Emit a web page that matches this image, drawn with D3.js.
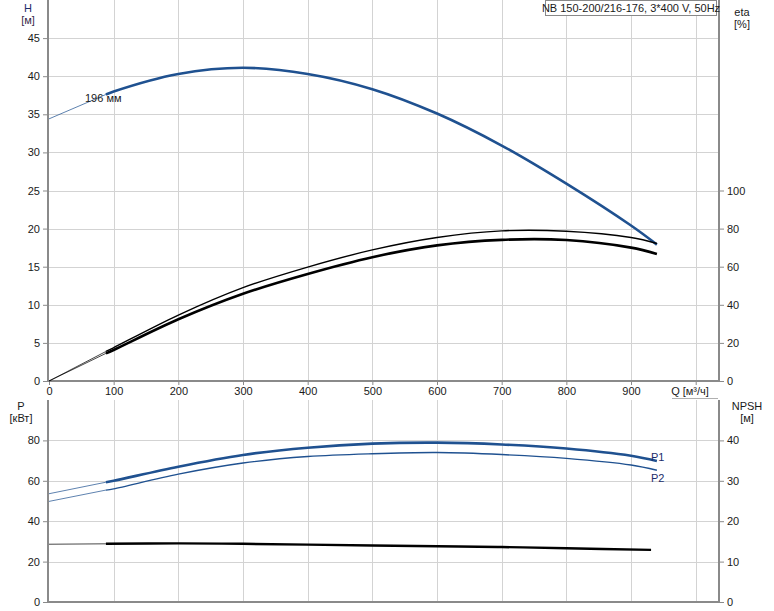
<!DOCTYPE html>
<html><head><meta charset="utf-8">
<script src="https://cdn.jsdelivr.net/npm/d3@7/dist/d3.min.js"></script>
<style>body{margin:0;background:#fff}svg{display:block;font-family:"Liberation Sans",Arial,sans-serif}</style>
</head><body><svg id="c" width="774" height="611"></svg>
<script>
// ---- data ----
const title = "NB 150-200/216-176, 3*400 V, 50Hz";
const qTicks = [0,100,200,300,400,500,600,700,800,900];
const hTicks = [0,5,10,15,20,25,30,35,40,45];
const etaTicks = [0,20,40,60,80,100];
const pTicks = [0,20,40,60,80];
const npshTicks = [0,10,20,30,40];

const qH   = [0, 88, 100, 200, 300, 400, 500, 600, 700, 800, 900, 940];
const hVal = [34.4, 37.6, 38.0, 40.3, 41.1, 40.3, 38.3, 35.1, 30.9, 25.9, 20.4, 17.9];

const qEta  = [0, 88, 100, 200, 300, 400, 500, 600, 700, 800, 900, 940];
const eta1  = [0, 15.5, 17.5, 34.6, 49.0, 59.8, 68.8, 75.3, 78.8, 78.6, 75.3, 72.2];
const eta2  = [0, 14.5, 16.3, 32.4, 45.8, 56.2, 65.0, 71.2, 74.1, 74.0, 70.0, 66.7];

const qP  = [0, 88, 100, 200, 300, 400, 500, 600, 700, 800, 900, 940];
const p1  = [53.6, 59.3, 60.0, 67.0, 72.8, 76.4, 78.4, 78.9, 78.0, 76.0, 72.4, 69.8];
const p2  = [49.8, 55.4, 56.0, 63.3, 68.8, 72.0, 73.4, 74.0, 73.0, 71.1, 67.8, 65.2];

const qN   = [0, 88, 200, 300, 400, 500, 600, 700, 800, 931];
const npsh = [14.3, 14.4, 14.5, 14.4, 14.2, 14.0, 13.8, 13.6, 13.3, 12.9];

const startQ = 88;

// ---- scales ----
const svg = d3.select("#c");
const x = d3.scaleLinear().domain([0, 1034.5]).range([49, 718]);
const yH = d3.scaleLinear().domain([0, 50]).range([381, 0]);
const yEta = d3.scaleLinear().domain([0, 200]).range([381, 0]);
const yP = d3.scaleLinear().domain([0, 100]).range([602, 400]);
const yN = d3.scaleLinear().domain([0, 50]).range([602, 400]);

const grid = "#d3d3d3", frame = "#8a8a8a", blue = "#1f5190", txt = "#1a1a1a";

// grids
const g = svg.append("g");
const vq = qTicks.slice(1).concat([1000]);
g.selectAll(".vt").data(vq).join("line")
  .attr("x1", d => Math.round(x(d))+0.5).attr("x2", d => Math.round(x(d))+0.5).attr("y1", 0).attr("y2", 381)
  .attr("stroke", grid);
g.selectAll(".vb").data(vq).join("line")
  .attr("x1", d => Math.round(x(d))+0.5).attr("x2", d => Math.round(x(d))+0.5).attr("y1", 400).attr("y2", 602)
  .attr("stroke", grid);
g.selectAll(".ht").data(hTicks.slice(1)).join("line")
  .attr("x1", 49).attr("x2", 718).attr("y1", d => Math.round(yH(d))+0.5).attr("y2", d => Math.round(yH(d))+0.5)
  .attr("stroke", grid);
g.selectAll(".hb").data(pTicks.slice(1)).join("line")
  .attr("x1", 49).attr("x2", 718).attr("y1", d => Math.round(yP(d))+0.5).attr("y2", d => Math.round(yP(d))+0.5)
  .attr("stroke", grid);

function styleAxis(a) {
  a.select(".domain").remove();
  a.selectAll("line").attr("stroke", frame);
  a.selectAll("text").attr("fill", txt).style("font-size", "11px").style("font-family", "Liberation Sans, Arial, sans-serif");
}
function leftAxis(scale, ticks, tx) {
  styleAxis(svg.append("g").attr("transform", `translate(${tx},0)`)
    .call(d3.axisLeft(scale).tickValues(ticks).tickSize(5).tickPadding(3).tickFormat(d3.format("d"))));
}
function rightAxis(scale, ticks, tx) {
  styleAxis(svg.append("g").attr("transform", `translate(${tx},0)`)
    .call(d3.axisRight(scale).tickValues(ticks).tickSize(5).tickPadding(3).tickFormat(d3.format("d"))));
}
leftAxis(yH, hTicks, 48);
rightAxis(yEta, etaTicks, 719);
leftAxis(yP, pTicks, 48);
rightAxis(yN, npshTicks, 719);

styleAxis(svg.append("g").attr("transform", "translate(0,382)")
  .call(d3.axisBottom(x).tickValues(qTicks.concat([1000])).tickSize(3).tickPadding(2).tickFormat(d => d === 1000 ? "" : d)));

// frames
const fr = svg.append("g").attr("stroke", frame).attr("stroke-width", 2).attr("fill", "none");
fr.append("line").attr("x1", 48).attr("x2", 48).attr("y1", 0).attr("y2", 382);
fr.append("line").attr("x1", 719).attr("x2", 719).attr("y1", 0).attr("y2", 382);
fr.append("line").attr("x1", 47).attr("x2", 720).attr("y1", 381).attr("y2", 381);
fr.append("line").attr("x1", 48).attr("x2", 48).attr("y1", 400).attr("y2", 603);
fr.append("line").attr("x1", 719).attr("x2", 719).attr("y1", 400).attr("y2", 603);
fr.append("line").attr("x1", 47).attr("x2", 720).attr("y1", 602).attr("y2", 602);
svg.append("line").attr("x1", 672).attr("x2", 718).attr("y1", 398.5).attr("y2", 398.5).attr("stroke", "#b0b0b0");

svg.append("text").attr("x", 690).attr("y", 395).attr("text-anchor", "middle")
  .attr("fill", txt).style("font-size", "11px").text("Q [м³/ч]");

// curves
function drawCurve(qs, vs, ys, color, w) {
  const pts = qs.map((q, i) => [q, vs[i]]);
  const thin = pts.filter(p => p[0] <= startQ);
  const thick = pts.filter(p => p[0] >= startQ);
  const line = d3.line().x(d => x(d[0])).y(d => ys(d[1])).curve(d3.curveCatmullRom.alpha(0.5));
  svg.append("path").attr("d", line(thin)).attr("fill", "none").attr("stroke", color).attr("stroke-width", 0.9).attr("opacity", 0.8);
  svg.append("path").attr("d", line(thick)).attr("fill", "none").attr("stroke", color).attr("stroke-width", w);
}
drawCurve(qH, hVal, yH, blue, 2.6);
drawCurve(qEta, eta1, yEta, "#000", 1.4);
drawCurve(qEta, eta2, yEta, "#000", 2.6);
drawCurve(qP, p1, yP, blue, 2.6);
drawCurve(qP, p2, yP, blue, 1.4);
drawCurve(qN, npsh, yN, "#000", 2.4);

// labels
function lbl(t, xx, yy, anchor, color) {
  svg.append("text").attr("x", xx).attr("y", yy).attr("text-anchor", anchor || "middle")
    .attr("fill", color || txt).style("font-size", "11px").text(t);
}
lbl("H", 28, 12, "middle", "#1c2d6b");
lbl("[м]", 28, 24, "middle", "#3a2a4a");
lbl("eta", 742, 16);
lbl("[%]", 742, 28);
lbl("P", 21, 410);
lbl("[кВт]", 21, 422);
lbl("NPSH", 747, 410);
lbl("[м]", 747, 422);
lbl("196 мм", 85, 102, "start");
lbl("P1", 651, 461, "start", "#1c2d6b");
lbl("P2", 651, 482, "start", "#1c2d6b");

// title box
svg.append("rect").attr("x", 545.5).attr("y", 0.5).attr("width", 171).attr("height", 15)
  .attr("fill", "#fff").attr("stroke", "#888");
svg.append("text").attr("x", 631).attr("y", 12).attr("text-anchor", "middle")
  .attr("fill", txt).style("font-size", "11px").text(title);
</script></body></html>
